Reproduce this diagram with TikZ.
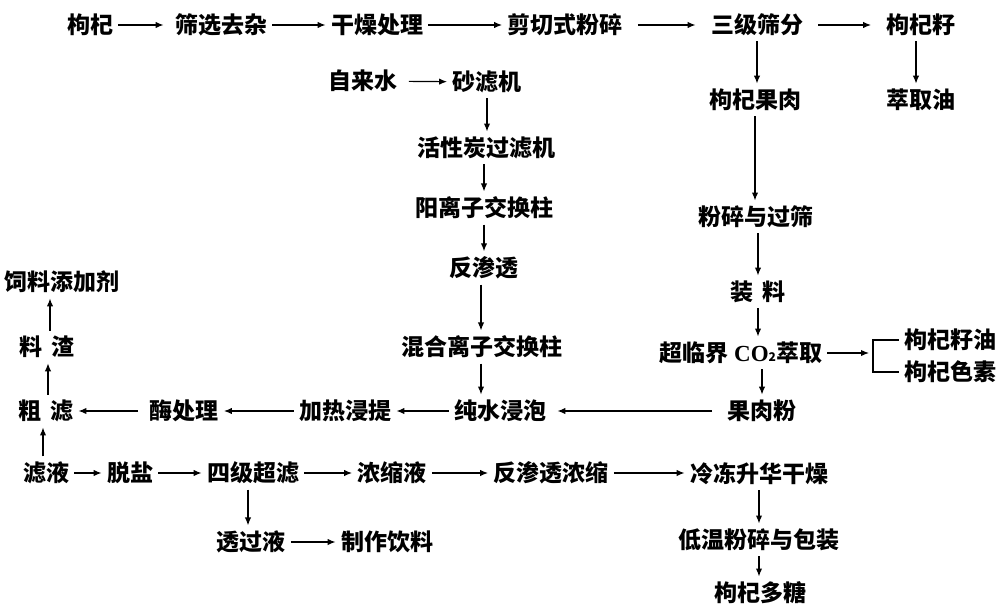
\documentclass[tikz,border=0pt]{standalone}
\usepackage{fontspec}
\newfontfamily\cjk{Noto Sans CJK SC}
\newfontfamily\lat{Liberation Serif}
\usetikzlibrary{arrows.meta}
\begin{document}
\begin{tikzpicture}[x=0.5pt,y=-0.5pt,
  lbl/.style={inner sep=2.5pt,font=\cjk\bfseries\fontsize{11.5pt}{12pt}\selectfont},
  arr/.style={draw,line width=0.6pt,-{Latex[length=4pt,width=3.2pt]}},
  ln/.style={draw,line width=0.6pt}]
\useasboundingbox (0,0) rectangle (1000,609);
% top row
\node[lbl] (gq) at (90,25) {枸杞};
\node[lbl] (sx) at (221,25) {筛选去杂};
\node[lbl] (gz) at (377,25) {干燥处理};
\node[lbl] (jq) at (565,25) {剪切式粉碎};
\node[lbl] (sj) at (757,25) {三级筛分};
\node[lbl] (gzz) at (921,25) {枸杞籽};
\node[lbl] (cqy) at (921,100) {萃取油};
% water column
\node[lbl] (zls) at (363,81) {自来水};
\node[lbl] (slj) at (487,82) {砂滤机};
\node[lbl] (hxt) at (486,148) {活性炭过滤机};
\node[lbl] (yl) at (484,208) {阳离子交换柱};
\node[lbl] (fst) at (484,268) {反渗透};
\node[lbl] (hh) at (482,347) {混合离子交换柱};
\node[lbl] (cs) at (500,411) {纯水浸泡};
% right column
\node[lbl] (gr) at (755,100) {枸杞果肉};
\node[lbl] (fs) at (756,217) {粉碎与过筛};
\node[lbl] (zl) at (758,292) {装\hspace{0.4em}料};
\node[lbl] (co2) at (741,353) {超临界 {\lat\bfseries CO}{\fontsize{6pt}{6pt}\selectfont 2}萃取};
\coordinate (br) at (869,353);
\coordinate (brk) at (873,356);
\node[lbl] (oil) at (950,340) {枸杞籽油};
\node[lbl] (pig) at (950,372) {枸杞色素};
\node[lbl] (grf) at (762,411) {果肉粉};
% middle row
\node[lbl] (jr) at (345,411) {加热浸提};
\node[lbl] (mei) at (184,411) {酶处理};
\node[lbl] (cl) at (46,411) {粗\hspace{0.35em}滤};
\node[lbl] (lz) at (47,347) {料\hspace{0.35em}渣};
\node[lbl] (fd) at (62,282) {饲料添加剂};
% bottom rows
\node[lbl] (lq) at (46,473) {滤液};
\node[lbl] (tx) at (130,473) {脱盐};
\node[lbl] (sjcl) at (253,473) {四级超滤};
\node[lbl] (nsy) at (392,473) {浓缩液};
\node[lbl] (fsts) at (551,473) {反渗透浓缩};
\node[lbl] (ld) at (759,474) {冷冻升华干燥};
\node[lbl] (tgy) at (251,542) {透过液};
\node[lbl] (zz) at (387,542) {制作饮料};
\node[lbl] (dw) at (759,540) {低温粉碎与包装};
\node[lbl] (gqdt) at (760,593) {枸杞多糖};
% connectors top row
\draw[arr,shorten >=3pt] (gq) -- (sx);
\draw[arr] (sx) -- (gz);
\draw[arr] (gz) -- (jq);
\draw[arr,shorten <=5pt,shorten >=5pt] (jq) -- (sj);
\draw[arr,shorten <=5pt,shorten >=5pt] (sj) -- (gzz);
\draw[arr] (sj) -- (sj |- gr.north);
\draw[arr] (gzz.south -| 916,0) -- (cqy.north -| 916,0);
% water column
\draw[arr,shorten <=3pt] (zls) -- (slj);
\draw[arr] (slj) -- (slj |- hxt.north);
\draw[arr] (hxt.south -| yl) -- (yl);
\draw[arr] (yl) -- (yl |- fst.north);
\draw[arr] (fst.south -| 481,0) -- (hh.north -| 481,0);
\draw[arr] (hh.south -| 481,0) -- (cs.north -| 481,0);
% right column
\draw[arr] (gr) -- (gr |- fs.north);
\draw[arr] (fs.south -| zl) -- (zl);
\draw[arr] (zl) -- (zl |- co2.north);
\draw[arr] (grf.north |- co2.south) -- (grf.north);
\draw[arr] (co2) -- (br);
\draw[ln] (oil.west) -| (brk) |- (pig.west);
% middle row
\draw[arr,shorten <=5pt,shorten >=3pt] (grf) -- (cs);
\draw[arr] (cs) -- (jr);
\draw[arr] (jr) -- (mei);
\draw[arr,shorten <=3pt] (mei) -- (cl);
\draw[arr] (cl.north -| 48,0) -- (lz.south -| 48,0);
\draw[arr] (lz.north -| 50,0) -- (fd.south -| 50,0);
\draw[arr] (lq.north -| 43,0) -- (cl.south -| 43,0);
% bottom rows
\draw[arr] (lq) -- (tx);
\draw[arr] (tx) -- (sjcl);
\draw[arr] (sjcl) -- (nsy);
\draw[arr] (nsy) -- (fsts);
\draw[arr] (fsts) -- (fsts -| ld.west);
\draw[arr] (sjcl.south -| 248,0) -- (tgy.north -| 248,0);
\draw[arr] (tgy) -- (zz);
\draw[arr] (ld) -- (dw);
\draw[arr] (dw) -- (dw |- gqdt.north);
\end{tikzpicture}
\end{document}
